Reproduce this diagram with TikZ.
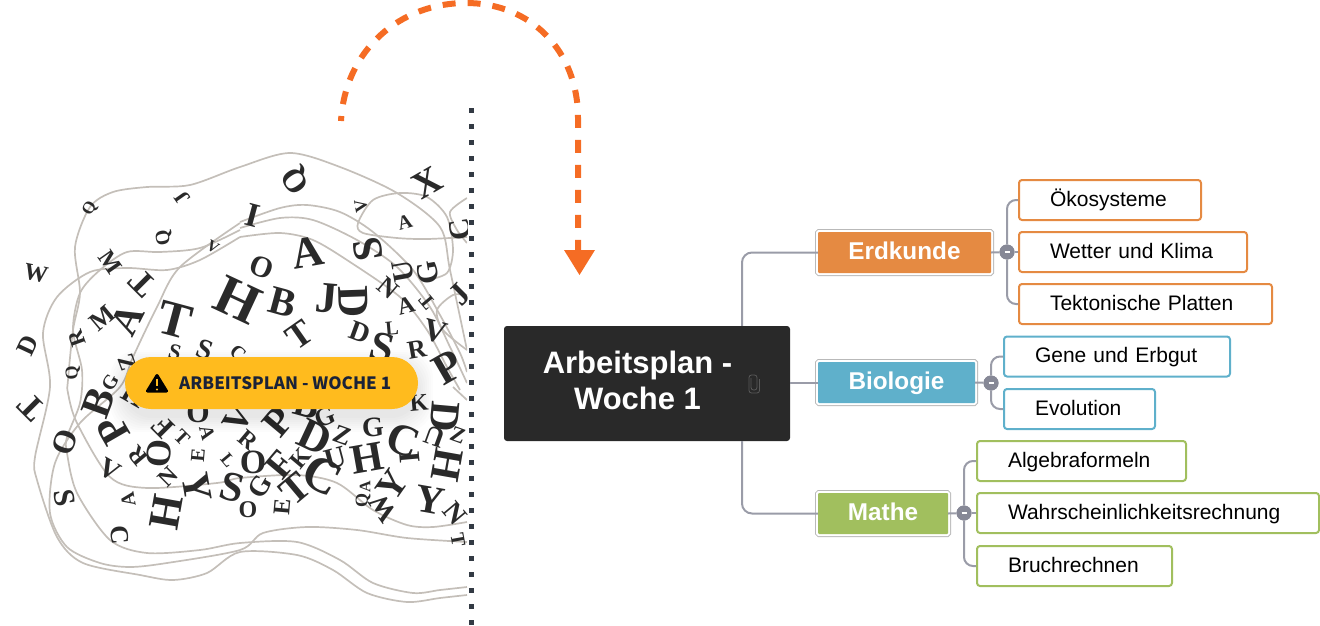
\documentclass[tikz,border=0pt]{standalone}
\usepackage{fontspec}
\setmainfont{Liberation Sans}
\newfontfamily\letterfont{Liberation Serif}
\newfontfamily\pillfont{Noto Sans CJK SC}
\usetikzlibrary{arrows.meta}

\definecolor{strand}{HTML}{C4BFB9}
\definecolor{inkdark}{HTML}{2A2A2A}
\definecolor{rootfill}{HTML}{292929}
\definecolor{linegrey}{HTML}{9A9CA8}
\definecolor{dotgrey}{HTML}{868896}
\definecolor{sepdark}{HTML}{333A44}
\definecolor{arcorange}{HTML}{F56C24}
\definecolor{pillyellow}{HTML}{FFBB1E}
\definecolor{pillink}{HTML}{1A2238}
\definecolor{erdcol}{HTML}{E58A42}
\definecolor{biocol}{HTML}{5FB0CB}
\definecolor{matcol}{HTML}{A1BF5E}

\tikzset{
    strandline/.style={draw=strand, line width=1.7pt, smooth},
    letter/.style={text=inkdark, inner sep=0pt, font=\letterfont\bfseries},
    conn/.style={draw=linegrey, line width=2pt},
    branch/.style={fill=#1, text=white, font=\bfseries\fontsize{24.3}{25}\selectfont, rounded corners=1pt,
        preaction={draw=gray!55, line width=6pt}, preaction={draw=white, line width=4pt},
        inner sep=0pt, minimum height=41pt, text height=18pt, text depth=5pt},
    leaf/.style={draw=#1, line width=2pt, fill=white, rounded corners=3pt, minimum height=40pt,
        inner xsep=1pt, inner ysep=0pt, align=left, font=\fontsize{21}{24}\selectfont,
        execute at begin node=\hspace*{30pt}\rule[-4pt]{0pt}{21pt}},
    foldot/.style={circle, fill=dotgrey, minimum size=15pt, inner sep=0pt}
}

\begin{document}
\begin{tikzpicture}[x=1pt, y=-1pt]
    \useasboundingbox (0, 0) rectangle (1320, 626);

    \begin{scope}
        \clip (0, 0) rectangle (467, 626);

        % strands
        \draw[strandline] plot coordinates {(467,522) (433,527) (407,525) (373,510) (337,483) (297,475) (240,478) (217,483) (147,488) (110,477) (77,423) (68,393) (68,380) (73,330) (80,293) (75,247) (90,207) (113,192) (147,187) (190,185) (240,167) (290,153) (340,167) (397,193) (440,227) (450,270) (467,350)};
        \draw[strandline] plot coordinates {(240,223) (180,267) (157,307) (133,357) (120,387) (80,423) (55,463) (50,513) (67,547) (100,563) (130,567) (167,563) (240,550) (263,533) (307,527) (357,530) (407,538) (467,542)};
        \draw[strandline] plot coordinates {(240,237) (200,260) (167,270) (127,268) (90,272) (57,297) (43,333) (50,387) (35,457) (37,480) (57,537) (83,563) (140,575) (173,580) (207,573) (240,552) (297,555) (333,570) (367,593) (407,602) (440,598) (467,595)};
        \draw[strandline] plot coordinates {(240,230) (200,248) (160,252) (127,252) (100,270) (80,293) (73,330) (82,370) (80,403) (67,437) (67,453) (77,493) (110,540) (147,553) (200,550) (240,543) (297,542) (340,560) (373,583) (413,593) (440,590) (467,587)};
        \draw[strandline] plot coordinates {(240,222) (280,208) (307,205) (340,212) (373,232) (413,270) (440,315) (460,353) (467,372)};
        \draw[strandline] plot coordinates {(240,228) (280,218) (313,220) (357,240) (397,267) (430,307) (450,347) (467,383)};
        \draw[strandline] plot coordinates {(240,237) (280,233) (313,240) (350,262) (400,297) (427,330) (447,367) (460,390)};
        \draw[strandline] plot coordinates {(427,280) (447,273) (453,250) (447,217) (427,197) (400,193) (373,200) (358,223) (363,233) (397,238) (427,239) (467,237)};
        \draw[strandline] plot coordinates {(467,198) (450,212) (457,230) (467,243)};
        \draw[strandline] plot coordinates {(467,295) (453,295) (437,310) (443,330) (467,350)};
        \draw[strandline] plot coordinates {(453,387) (467,400)};

        % letters: char/x/y/rotation/size
        \foreach \ch/\px/\py/\rr/\sz [count=\i] in {
            W/36/273/-12/24, Q/90/209/60/17, J/183/198/125/22, Q/164/238/100/20, V/213/247/-30/16,
            M/110/262/-55/24, T/143/283/135/34, T/175/320/-15/50, A/127/320/63/40, M/102/318/40/26,
            R/77/338/110/22, D/28/345/65/26, Q/73/373/95/18, G/110/382/60/20, Z/127/363/110/24,
            S/205/350/-20/28, C/238/353/-40/20, S/175/352/-15/22,
            Q/297/180/125/32, I/253/215/-15/34, X/427/183/30/38, V/361/206/100/18, A/405/222/15/20,
            C/460/230/100/30, S/368/249/100/42, A/308/252/10/44, O/262/267/-20/30, H/238/300/-25/56,
            B/283/302/-15/40, J/327/298/-5/44, D/353/302/-88/44, U/403/272/100/30, G/428/273/100/30,
            N/388/288/-40/26, A/406/306/15/24, T/427/302/130/20, J/460/295/45/32, V/435/332/-15/32,
            T/300/335/35/36, D/360/332/-20/28, L/392/328/5/20, S/382/347/-15/42, R/417/349/10/26,
            P/448/367/30/44, K/419/403/5/24, D/445/417/-95/42, Z/458/435/-20/22, U/435/437/160/28,
            H/447/465/-100/42, C/403/440/-20/44, I/410/457/-85/30, G/373/427/5/28, Z/343/435/-20/26,
            D/315/437/-25/44, H/367/458/10/42, Y/392/485/55/38, Y/430/500/-10/40, N/455/513/-50/28,
            T/458/540/-80/20, W/383/508/125/28, Q/363/500/90/18, A/365/487/90/16, C/322/475/-30/50,
            U/335/458/15/30, K/300/458/50/24, F/280/465/50/38, T/295/489/40/40, E/282/507/85/24,
            O/253/462/0/34, G/260/486/60/28, O/248/510/0/24, P/278/422/50/40, B/307/405/-15/38,
            G/325/417/20/26, R/248/440/-40/24, S/232/487/-15/42, V/238/418/60/36,
            T/32/407/135/34, O/65/442/70/32, S/65/498/-80/30, C/120/535/-85/26, A/128/500/100/20,
            V/110/470/-30/28, R/138/456/130/24, P/113/430/120/42, B/98/403/70/42, O/159/454/85/36,
            F/163/427/135/30, H/166/512/80/44, N/168/477/45/24, Y/197/487/-80/40, T/182/438/-45/20,
            A/207/433/-75/20, E/198/455/85/20, L/228/460/-50/18, O/198/413/0/30, H/135/395/-30/30
        } {
            \node[letter, rotate=\rr] (letter\i) at (\px, \py) {\fontsize{\sz}{\sz}\selectfont \ch};
        }
    \end{scope}

    % soft shadow under the pill
    \foreach \g in {1, 3, ..., 15} {
        \fill[black, opacity=0.012, rounded corners=28pt] (125-\g, 365-\g) rectangle (418+\g, 417+\g);
    }
    \node[fill=pillyellow, rounded corners=26pt, minimum width=293pt, minimum height=52pt, inner sep=0pt] (pill) at (271.5, 383) {};
    \node[anchor=west, inner sep=0pt, text=pillink, font=\pillfont\bfseries\fontsize{17}{17}\selectfont] (pilltext) at (179, 383) {ARBEITSPLAN - WOCHE 1};
    \fill[black, draw=black, line width=3pt, line join=round] (157, 375.5) -- (166.5, 391) -- (147.5, 391) -- cycle;
    \draw[pillyellow, line width=2pt] (157, 378.5) -- (157, 386);
    \fill[pillyellow] (157, 389.5) circle (1.2);

    % separator and arc
    \coordinate (septop) at (471, 108);
    \coordinate (sepbot) at (471, 626);
    \draw[sepdark, line width=5pt, dash pattern=on 5pt off 11pt] (septop) -- (sepbot);

    \coordinate (arcstart) at (341, 121);
    \coordinate (arcpeak) at (466, 3);
    \coordinate (arcside) at (578, 118);
    \coordinate (arcend) at (578, 250);
    \draw[arcorange, line width=6pt, dash pattern=on 13pt off 12pt, dash phase=8pt] (arcstart) .. controls (345, 50) and (400, 3) .. (arcpeak) .. controls (530, 3) and (578, 50) .. (arcside) -- (arcend);
    \fill[arcorange] (564, 250) -- (595, 250) -- (579.5, 275) -- cycle;

    % map
    \node[fill=rootfill, rounded corners=3pt, minimum width=286pt, minimum height=115pt, inner sep=0pt] (root) at (647, 383.5) {};
    \node[text=white, inner sep=0pt, align=center, font=\bfseries\fontsize{31}{36}\selectfont] (roottext) at (637.5, 380) {Arbeitsplan -\\Woche 1};
    \draw[gray!70!black, line width=0.8pt, rounded corners=2.5pt] (751, 378) -- (751, 390) -- (757, 390) -- (757, 375) -- (749, 375) -- (749, 393) -- (759.5, 393) -- (759.5, 379);

    \node[branch=erdcol, minimum width=173pt] (erdkunde) at (904.5, 252.5) {Erdkunde};
    \node[branch=biocol, minimum width=157pt] (biologie) at (896.5, 382.5) {Biologie};
    \node[branch=matcol, minimum width=130pt] (mathe) at (883, 513.5) {Mathe};

    \node[foldot] (erddot) at (1007, 252) {};
    \node[foldot] (biodot) at (991, 383) {};
    \node[foldot] (matdot) at (964, 513) {};

    \node[leaf=erdcol, text width=180pt] (oeko) at (1110, 200) {Ökosysteme};
    \node[leaf=erdcol, text width=226pt] (wetter) at (1133, 252) {Wetter und Klima};
    \node[leaf=erdcol, text width=251pt] (tekto) at (1145.5, 304) {Tektonische Platten};
    \node[leaf=biocol, text width=224pt] (gene) at (1117, 356.5) {Gene und Erbgut};
    \node[leaf=biocol, text width=149pt] (evo) at (1079.5, 409) {Evolution};
    \node[leaf=matcol, text width=207pt] (algebra) at (1081.5, 461) {Algebraformeln};
    \node[leaf=matcol, text width=340pt] (wahr) at (1148, 513) {Wahrscheinlichkeitsrechnung};
    \node[leaf=matcol, text width=193pt] (bruch) at (1074.5, 566) {Bruchrechnen};

    \coordinate (trunk) at (742, 383);
    \draw[conn, rounded corners=10pt] (trunk |- root.north) |- (erdkunde.west);
    \draw[conn, rounded corners=10pt] (trunk |- root.south) |- (mathe.west);
    \draw[conn] (root.east |- biologie.west) -- (biologie.west);
    \draw[conn] (erdkunde.east) -- (erddot);
    \draw[conn] (biologie.east) -- (biodot);
    \draw[conn] (mathe.east) -- (matdot);
    \draw[conn] (erddot) -- (wetter.west);
    \draw[conn, rounded corners=9pt] (erddot) |- (oeko.west);
    \draw[conn, rounded corners=9pt] (erddot) |- (tekto.west);
    \draw[conn, rounded corners=9pt] (biodot) |- (gene.west);
    \draw[conn, rounded corners=9pt] (biodot) |- (evo.west);
    \draw[conn] (matdot) -- (wahr.west);
    \draw[conn, rounded corners=9pt] (matdot) |- (algebra.west);
    \draw[conn, rounded corners=9pt] (matdot) |- (bruch.west);

    \foreach \d in {erddot, biodot, matdot} {
        \fill[dotgrey] (\d) circle (7.5);
        \draw[white, line width=1.2pt] ([xshift=-2.5pt]\d.center) -- ([xshift=2.5pt]\d.center);
    }
\end{tikzpicture}
\end{document}
